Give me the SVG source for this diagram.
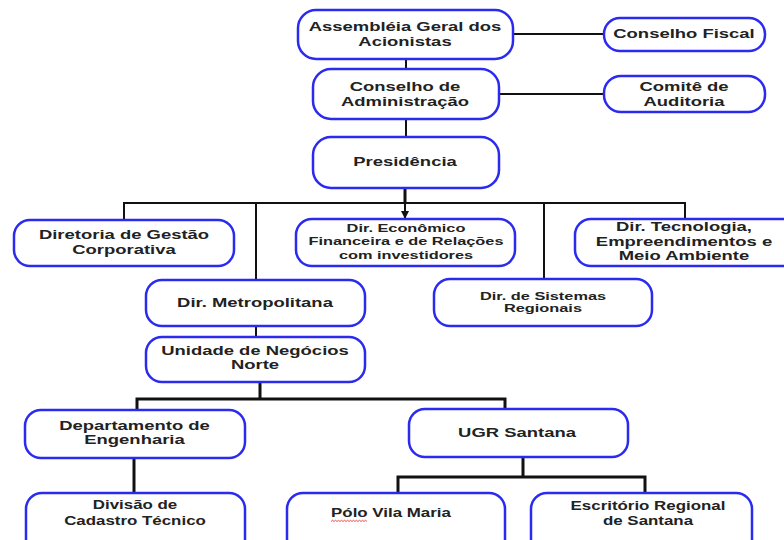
<svg xmlns="http://www.w3.org/2000/svg" width="784" height="540" viewBox="0 0 784 540">
<style>
.box{fill:#fff;stroke:#2b2bf0;stroke-width:2.5}
.t{font-family:"Liberation Sans",Arial,sans-serif;font-weight:bold;font-size:13px;fill:#222;text-anchor:middle}
.s{font-size:11.5px}
.c{stroke:#111;stroke-width:2;fill:none}
.c3{stroke:#111;stroke-width:3;fill:none}
</style>
<defs>
<marker id="arr" viewBox="0 0 10 10" refX="10" refY="5" markerWidth="4" markerHeight="4" orient="auto" markerUnits="strokeWidth">
<path d="M0,0 L10,5 L0,10 z" fill="#111"/>
</marker>
</defs>
<rect width="784" height="540" fill="#fff"/>
<g id="connectors">
<path class="c" d="M513,34 H604"/>
<path class="c" d="M406,59 V69"/>
<path class="c" d="M499,94 H604"/>
<path class="c" d="M406,119 V137"/>
<path class="c3" d="M405,188 V203"/>
<path class="c" d="M124,219 V203 H685 V218"/>
<path class="c" d="M405,203 V219" marker-end="url(#arr)"/>
<path class="c" d="M256,203 V280"/>
<path class="c" d="M544,203 V279"/>
<path class="c" d="M256,325 V337"/>
<path class="c3" d="M260,382 V399"/>
<path class="c3" d="M137,410 V399 H505 V410"/>
<path class="c3" d="M134,458 V493"/>
<path class="c3" d="M523,457 V477"/>
<path class="c3" d="M398,493 V477 H645 V493"/>
</g>
<g id="n-assembleia">
<rect class="box" x="298" y="10" width="215" height="49" rx="18"/>
<text class="t" transform="translate(405,0) scale(1.42,1)" y="31">Assembléia Geral dos</text>
<text class="t" transform="translate(405,0) scale(1.42,1)" y="46">Acionistas</text>
</g>
<g id="n-fiscal">
<rect class="box" x="604" y="18" width="161" height="33" rx="16"/>
<text class="t" transform="translate(684,0) scale(1.42,1)" y="38.5">Conselho Fiscal</text>
</g>
<g id="n-conselho">
<rect class="box" x="313" y="69" width="186" height="50" rx="18"/>
<text class="t" transform="translate(405,0) scale(1.42,1)" y="91">Conselho de</text>
<text class="t" transform="translate(405,0) scale(1.42,1)" y="106">Administração</text>
</g>
<g id="n-comite">
<rect class="box" x="604" y="76" width="161" height="36" rx="17"/>
<text class="t" transform="translate(684,0) scale(1.42,1)" y="91">Comitê de</text>
<text class="t" transform="translate(684,0) scale(1.42,1)" y="106">Auditoria</text>
</g>
<g id="n-presidencia">
<rect class="box" x="313" y="137" width="186" height="51" rx="18"/>
<text class="t" transform="translate(405,0) scale(1.42,1)" y="166">Presidência</text>
</g>
<g id="n-gestao">
<rect class="box" x="14" y="220" width="220" height="46" rx="16"/>
<text class="t" transform="translate(124,0) scale(1.42,1)" y="239.5">Diretoria de Gestão</text>
<text class="t" transform="translate(124,0) scale(1.42,1)" y="254">Corporativa</text>
</g>
<g id="n-economico">
<rect class="box" x="296" y="219" width="219" height="47" rx="16"/>
<text class="t s" transform="translate(406,0) scale(1.42,1)" y="232">Dir. Econômico</text>
<text class="t s" transform="translate(406,0) scale(1.42,1)" y="245.5">Financeira e de Relações</text>
<text class="t s" transform="translate(406,0) scale(1.42,1)" y="259">com investidores</text>
</g>
<g id="n-tecnologia">
<rect class="box" x="575" y="219" width="225" height="47" rx="16"/>
<text class="t" transform="translate(684,0) scale(1.42,1)" y="231">Dir. Tecnologia,</text>
<text class="t" transform="translate(684,0) scale(1.42,1)" y="246">Empreendimentos e</text>
<text class="t" transform="translate(684,0) scale(1.42,1)" y="260">Meio Ambiente</text>
</g>
<g id="n-metropolitana">
<rect class="box" x="146" y="280" width="219" height="46" rx="16"/>
<text class="t" transform="translate(255,0) scale(1.42,1)" y="307">Dir. Metropolitana</text>
</g>
<g id="n-sistemas">
<rect class="box" x="434" y="279" width="218" height="47" rx="16"/>
<text class="t s" transform="translate(543,0) scale(1.42,1)" y="300">Dir. de Sistemas</text>
<text class="t s" transform="translate(543,0) scale(1.42,1)" y="312.5">Regionais</text>
</g>
<g id="n-unidade">
<rect class="box" x="146" y="337" width="219" height="45" rx="16"/>
<text class="t" transform="translate(255,0) scale(1.42,1)" y="355">Unidade de Negócios</text>
<text class="t" transform="translate(255,0) scale(1.42,1)" y="369.5">Norte</text>
</g>
<g id="n-engenharia">
<rect class="box" x="25" y="410" width="220" height="48" rx="16"/>
<text class="t" transform="translate(134.5,0) scale(1.42,1)" y="430">Departamento de</text>
<text class="t" transform="translate(134.5,0) scale(1.42,1)" y="444.5">Engenharia</text>
</g>
<g id="n-ugr">
<rect class="box" x="409" y="409" width="219" height="48" rx="16"/>
<text class="t" transform="translate(517,0) scale(1.42,1)" y="437">UGR Santana</text>
</g>
<g id="n-cadastro">
<rect class="box" x="26" y="493" width="219" height="70" rx="16"/>
<text class="t" transform="translate(135,0) scale(1.3,1)" y="509.5">Divisão de</text>
<text class="t" transform="translate(135,0) scale(1.3,1)" y="525">Cadastro Técnico</text>
</g>
<g id="n-polo">
<rect class="box" x="287" y="493" width="218" height="70" rx="16"/>
<text class="t" transform="translate(391,0) scale(1.3,1)" y="517">Pólo Vila Maria</text>
<path d="M331,521.5 l1.5,-1.2 l1.5,1.2 l1.5,-1.2 l1.5,1.2 l1.5,-1.2 l1.5,1.2 l1.5,-1.2 l1.5,1.2 l1.5,-1.2 l1.5,1.2 l1.5,-1.2 l1.5,1.2 l1.5,-1.2 l1.5,1.2 l1.5,-1.2 l1.5,1.2 l1.5,-1.2 l1.5,1.2 l1.5,-1.2 l1.5,1.2 l1.5,-1.2 l1.5,1.2 l1.5,-1.2 l1.5,1.2" fill="none" stroke="#e02020" stroke-width="0.8"/>
</g>
<g id="n-escritorio">
<rect class="box" x="531" y="493" width="221" height="70" rx="16"/>
<text class="t" transform="translate(648,0) scale(1.3,1)" y="510">Escritório Regional</text>
<text class="t" transform="translate(648,0) scale(1.3,1)" y="525.5">de Santana</text>
</g>
</svg>
